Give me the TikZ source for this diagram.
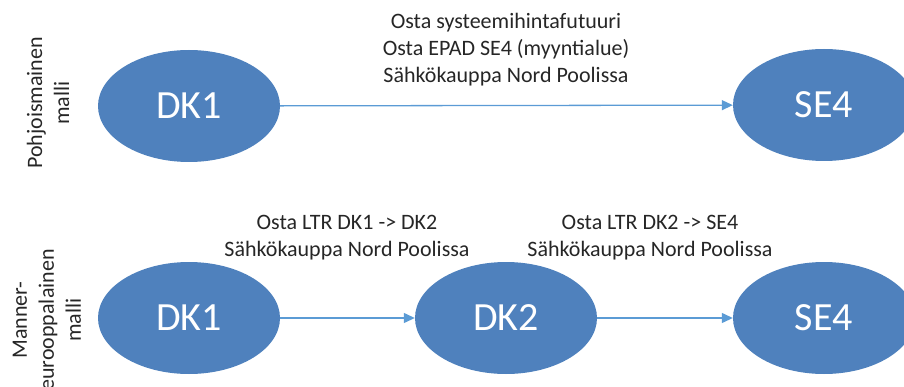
\documentclass[tikz,border=0pt]{standalone}
\usepackage{fontspec}
\setmainfont{Carlito}
\usepackage{tikz}
\usetikzlibrary{shapes.geometric,arrows.meta}
\definecolor{zonefill}{HTML}{4F81BD}
\definecolor{flowline}{HTML}{5B9BD5}
\begin{document}
\begin{tikzpicture}[x=1pt,y=1pt,
		zone/.style={ellipse, fill=zonefill, text=white, inner sep=0pt,
			minimum width=182pt, minimum height=112pt,
			font=\fontsize{40}{48}\selectfont},
		flow/.style={draw=flowline, line width=1.3pt,
			-{Triangle[length=11pt,width=10pt]}},
		lbl/.style={align=center, text=black!85, font=\fontsize{22}{27}\selectfont},
		model/.style={lbl, rotate=90}]
			\clip (0,0) rectangle (904,386);
			\node[model] (nordic) at (48,283) {Pohjoismainen\\malli};
			\node[model] (cont) at (47,66) {Manner-\\eurooppalainen\\malli};
			\node[zone] (dkA) at (189,280) {DK1};
			\node[zone] (seA) at (824,281) {SE4};
			\draw[flow] (dkA) -- (seA);
			\node[lbl] (buyA) at (506,336) {Osta systeemihintafutuuri\\Osta EPAD SE4 (myyntialue)\\Sähkökauppa Nord Poolissa};
			\node[zone] (dkB) at (189,68) {DK1};
			\node[zone] (dkC) at (506,68) {DK2};
			\node[zone] (seB) at (824,68) {SE4};
			\draw[flow] (dkB) -- (dkC);
			\draw[flow] (dkC) -- (seB);
			\node[lbl] (buyB) at (347,148) {Osta LTR DK1 -> DK2\\Sähkökauppa Nord Poolissa};
			\node[lbl] (buyC) at (650,148) {Osta LTR DK2 -> SE4\\Sähkökauppa Nord Poolissa};
		\end{tikzpicture}
\end{document}
